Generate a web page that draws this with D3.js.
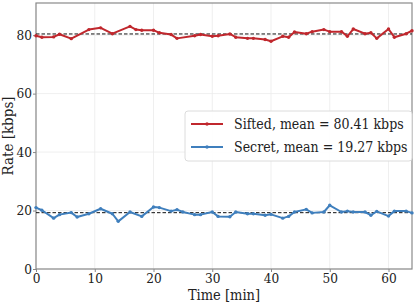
<!DOCTYPE html>
<html>
<head>
<meta charset="utf-8">
<script src="https://cdn.jsdelivr.net/npm/d3@7"></script>
<style>
  body { margin: 0; background: #fff; }
  svg text { font-family: "DejaVu Serif Condensed", "DejaVu Serif", serif !important; fill: #222; }
</style>
</head>
<body>
<div id="box1"></div>
<script>
"use strict";

// data (time in min, rate in kbps)
const sifted_time = [0,1,3,4,6,9,11,13,16,17,18,20,21,23,24,27,28,30,31,33,34,36,37,39,40,42,43,44,46,47,49,50,52,53,54,56,57,58,60,61,63,64];
const sifted_rate = [79.8,79.3,79.4,80.3,78.8,81.9,82.5,80.5,83.0,81.9,81.7,81.7,80.8,80.2,78.9,79.8,80.2,79.6,79.8,80.4,79.3,78.9,78.9,78.5,77.9,79.6,79.3,81.1,80.5,81.2,81.9,81.2,81.2,79.6,82.1,80.5,80.8,78.9,82.1,79.3,80.5,81.5];
const secret_time = [0,1,3,4,6,7,9,11,13,14,16,18,20,21,23,24,25,27,28,30,31,33,34,36,37,39,40,42,43,44,46,47,49,50,52,53,54,56,57,58,60,61,63,64];
const secret_rate = [21.0,20.1,17.4,18.6,19.3,17.8,18.9,20.6,18.9,16.3,19.5,18.0,21.2,21.0,19.8,20.3,19.5,18.6,18.6,19.5,18.0,17.9,19.5,18.9,18.9,18.4,18.7,17.4,18.0,19.5,20.4,19.2,19.5,21.8,19.5,19.8,19.5,19.5,18.4,19.7,18.1,19.8,19.8,19.2];

const series_names = ["Sifted", "Secret"];
const series_means = [80.41, 19.27];
const series_colors = ["#c0272d", "#3f7fbd"];

const x_ticks = [0, 10, 20, 30, 40, 50, 60];
const y_ticks = [0, 20, 40, 60, 80];

const W = 415, H = 305;
const m = { left: 36, right: 3, top: 3, bottom: 36 };

const svg = d3.select("#box1").append("svg")
  .attr("width", W)
  .attr("height", H);

const x = d3.scaleLinear().domain([0, 64]).range([m.left, W - m.right]);
const y = d3.scaleLinear().domain([0, 91]).range([H - m.bottom, m.top]);

// grid
svg.append("g").selectAll("line").data(x_ticks).join("line")
  .attr("x1", d => x(d)).attr("x2", d => x(d))
  .attr("y1", y(0)).attr("y2", y(91))
  .attr("stroke", "#ebebeb").attr("stroke-width", 0.8);
svg.append("g").selectAll("line").data(y_ticks).join("line")
  .attr("x1", x(0)).attr("x2", x(64))
  .attr("y1", d => y(d)).attr("y2", d => y(d))
  .attr("stroke", "#ebebeb").attr("stroke-width", 0.8);

// axes
const xa = svg.append("g")
  .attr("transform", `translate(0,${y(0)})`)
  .call(d3.axisBottom(x).tickValues(x_ticks).tickSize(3).tickPadding(1));
const ya = svg.append("g")
  .attr("transform", `translate(${x(0)},0)`)
  .call(d3.axisLeft(y).tickValues(y_ticks).tickSize(3).tickPadding(1));
[xa, ya].forEach(a => {
  a.attr("font-family", null);
  a.select(".domain").remove();
  a.selectAll("line").attr("stroke", "#888");
  a.selectAll("text").attr("font-size", 13.5).attr("fill", "#222");
});

// frame
svg.append("rect")
  .attr("x", x(0)).attr("y", y(91))
  .attr("width", x(64) - x(0)).attr("height", y(0) - y(91))
  .attr("fill", "none").attr("stroke", "#8a8a8a").attr("stroke-width", 1.2);

// mean lines
svg.append("g").selectAll("line").data(series_means).join("line")
  .attr("x1", x(0)).attr("x2", x(64))
  .attr("y1", d => y(d)).attr("y2", d => y(d))
  .attr("stroke", "#111").attr("stroke-width", 1)
  .attr("stroke-dasharray", "3.5,2");

// series
const series = [
  { t: sifted_time, v: sifted_rate },
  { t: secret_time, v: secret_rate }
];
const line = d3.line().x(d => x(d[0])).y(d => y(d[1]));
series.forEach((s, i) => {
  const pts = s.t.map((t, j) => [t, s.v[j]]);
  svg.append("path").datum(pts)
    .attr("d", line)
    .attr("fill", "none")
    .attr("stroke", series_colors[i])
    .attr("stroke-width", 2)
    .attr("stroke-linejoin", "round");
  svg.append("g").selectAll("circle").data(pts).join("circle")
    .attr("cx", d => x(d[0])).attr("cy", d => y(d[1]))
    .attr("r", 1.7)
    .attr("fill", series_colors[i]);
});

// axis labels
svg.append("text")
  .attr("x", (x(0) + x(64)) / 2).attr("y", 300)
  .attr("text-anchor", "middle")
  .attr("font-size", 14.5)
  .text("Time [min]");
svg.append("text")
  .attr("transform", `translate(13,${(y(0) + y(91)) / 2}) rotate(-90)`)
  .attr("text-anchor", "middle")
  .attr("font-size", 15)
  .text("Rate [kbps]");

// legend
const lg = svg.append("g").attr("transform", "translate(185,111)");
lg.append("rect")
  .attr("width", 227).attr("height", 50).attr("rx", 3)
  .attr("fill", "#fff").attr("fill-opacity", 0.9)
  .attr("stroke", "#dcdcdc").attr("stroke-width", 1);
series_names.forEach((name, i) => {
  const yy = 13 + i * 23;
  lg.append("line")
    .attr("x1", 6).attr("x2", 38).attr("y1", yy).attr("y2", yy)
    .attr("stroke", series_colors[i]).attr("stroke-width", 2);
  lg.append("circle").attr("cx", 22).attr("cy", yy).attr("r", 1.7).attr("fill", series_colors[i]);
  lg.append("text")
    .attr("x", 49).attr("y", yy).attr("dy", "0.35em")
    .attr("font-size", 14)
    .text(`${name}, mean = ${series_means[i].toFixed(2)} kbps`);
});
</script>
</body>
</html>
